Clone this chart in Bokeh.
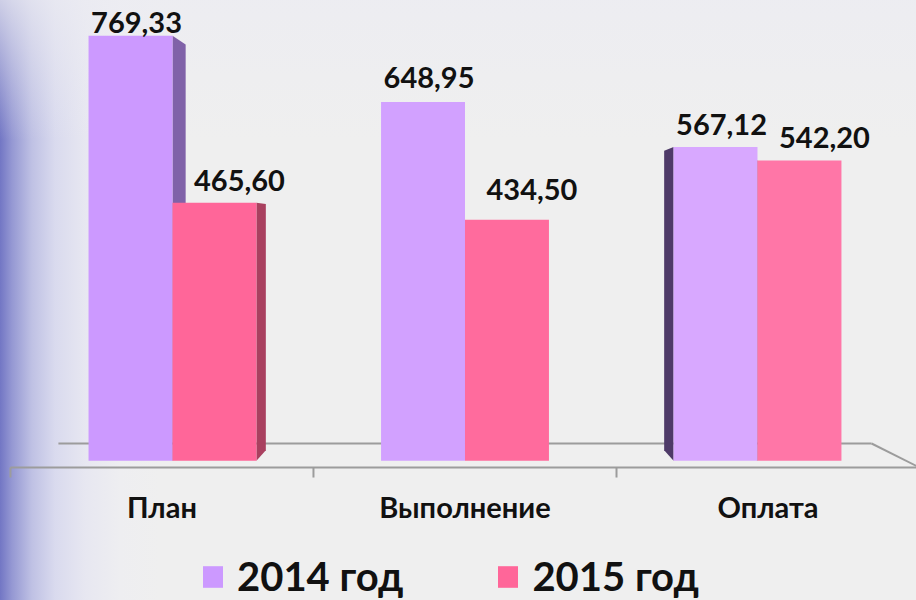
from bokeh.plotting import figure
from bokeh.models import Range1d, ColumnDataSource, Legend, LegendItem
from bokeh.core.properties import value
from bokeh.embed import file_html
from bokeh.resources import INLINE

# ---------------- data ----------------
categories = ["План", "Выполнение", "Оплата"]
series_names = ["2014 год", "2015 год"]
values_2014 = [769.33, 648.95, 567.12]
values_2015 = [465.60, 434.50, 542.20]

# ---------------- style ----------------
FONT = "Lato"
PURPLE = "#CC99FF"
PINK = "#FF6699"
PURPLE_SHADES = ["#CC99FF", "#D2A1FF", "#D8A8FF"]   # lighting per category
PINK_SHADES = ["#FF6699", "#FF6B9D", "#FF76A7"]
SIDE_RIGHT = {"p": "#8062A8", "k": "#A9405F"}
SIDE_LEFT = {"p": "#4E3A68", "k": "#7A2F4A"}
FLOOR = "#9C9C9C"

W = 0.287          # bar width (category units)
BASE = -4          # bars stand slightly into the floor
VPX, VPY, K = 1.0, 415.0, 0.045   # simple perspective for side faces

def fmt(v):
    return f"{v:.2f}".replace(".", ",")

n = len(categories)
idx = list(range(n))

p = figure(width=916, height=600, output_backend="svg", toolbar_location=None,
           x_range=Range1d(-0.588, 2.5436), y_range=Range1d(-258.4, 833.5),
           min_border=0, min_border_left=0, min_border_right=0,
           min_border_top=0, min_border_bottom=0)
p.axis.visible = False
p.grid.visible = False
p.outline_line_color = None
p.background_fill_color = None
p.border_fill_color = None

# ---------------- floor ----------------
fl, fr, fv = -0.554, (n - 1) + 0.554, -16.4
bl, br, bv = -0.39, (n - 1) + 0.39, 27.3
p.segment(x0=[fl, bl, br], y0=[fv, bv, bv], x1=[fr, br, fr], y1=[fv, bv, fv],
          line_color=FLOOR, line_width=2)
step = (fr - fl) / n
tick_x = [fl + step * k for k in range(n + 1)]
p.segment(x0=tick_x, y0=[fv] * (n + 1), x1=tick_x, y1=[-34.6] * (n + 1),
          line_color=FLOOR, line_width=2)

# ---------------- side faces (perspective) ----------------
xs, ys, cs = [], [], []
for series, vals, key in ((0, values_2014, "p"), (1, values_2015, "k")):
    for i, v in enumerate(vals):
        cx = i + (W / 2 if series else -W / 2)
        xl, xr = cx - W / 2, cx + W / 2
        if cx < VPX - 0.01:
            ex, col = xr, SIDE_RIGHT[key]
        elif cx > VPX + 0.01:
            ex, col = xl, SIDE_LEFT[key]
        else:
            continue
        bx = ex + K * (VPX - ex)
        xs.append([ex, bx, bx, ex])
        ys.append([v, v + K * (VPY - v), BASE + K * (VPY - BASE), BASE])
        cs.append(col)
p.patches(xs=xs, ys=ys, fill_color=cs, line_color=None)

# ---------------- bars ----------------
src14 = ColumnDataSource(dict(x=[i - W / 2 for i in idx], top=values_2014,
                              lab=[fmt(v) for v in values_2014], c=PURPLE_SHADES))
src15 = ColumnDataSource(dict(x=[i + W / 2 for i in idx], top=values_2015,
                              lab=[fmt(v) for v in values_2015], c=PINK_SHADES))
r14 = p.vbar(x="x", top="top", bottom=BASE, width=W, source=src14,
             fill_color="c", line_color=None)
r15 = p.vbar(x="x", top="top", bottom=BASE, width=W, source=src15,
             fill_color="c", line_color=None)

# ---------------- value labels ----------------
src14.data["yo"] = [-13, -24, -22]
src15.data["yo"] = [-22, -30, -23]
for src, dx in ((src14, 6), (src15, 25)):
    p.text(x="x", y="top", text="lab", source=src, x_offset=dx, y_offset="yo",
           text_align="center", text_baseline="alphabetic",
           text_font=value(FONT), text_font_style="bold", text_font_size="29px",
           text_color="#111111")

# ---------------- category labels ----------------
p.text(x=[fl + step * (i + 0.5) for i in idx], y=[-109.2] * n, text=categories,
       y_offset=-12, text_align="center", text_baseline="alphabetic",
       text_font=value(FONT), text_font_style="bold", text_font_size="29px",
       text_color="#111111")

# ---------------- legend (own swatches in the series colours) ----------------
sw14 = p.vbar(x=[0], top=[0], bottom=[0], width=0, fill_color=PURPLE,
              line_color=None, visible=False)
sw15 = p.vbar(x=[0], top=[0], bottom=[0], width=0, fill_color=PINK,
              line_color=None, visible=False)
legend = Legend(items=[LegendItem(label=series_names[0], renderers=[r14]),
                       LegendItem(label=series_names[1], renderers=[r15])],
                orientation="horizontal", location=(200, 0),
                glyph_width=25, glyph_height=27, label_standoff=12, spacing=92,
                padding=0, margin=0, border_line_color=None,
                background_fill_alpha=0,
                label_text_font=FONT, label_text_font_style="bold",
                label_text_font_size="40px", label_text_color="#111111")
p.add_layout(legend)

html = file_html(p, INLINE)
css = ("<style>html,body{background-color:#efefef;"
       "background-image:linear-gradient(to bottom, rgba(236,236,242,0.75) 0px, rgba(236,236,242,0) 140px),"
       "linear-gradient(to right, #7276c4 0px, #9598d3 12px, #bfc1e4 32px, #d9daee 55px, "
       "#e7e7f1 85px, #eeeef1 120px, #efefef 160px);"
       "background-repeat:no-repeat;background-size:100% 100%;min-height:100%;}</style>")
html = html.replace("</head>", css + "</head>", 1)
open("out.html", "w").write(html)
